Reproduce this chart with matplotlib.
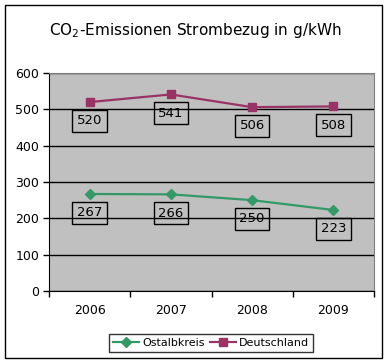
import matplotlib
matplotlib.use("Agg")
import matplotlib.pyplot as plt
from matplotlib.patches import Rectangle

years = ["2006", "2007", "2008", "2009"]
ostalbkreis = [267, 266, 250, 223]
deutschland = [520, 541, 506, 508]

GREEN = "#339966"
PURPLE = "#993366"
GRAY = "#C0C0C0"

plt.rcParams["font.family"] = "DejaVu Sans"
plt.rcParams["mathtext.default"] = "regular"

fig = plt.figure(figsize=(3.9, 3.64), dpi=100)
W, H = 390.0, 364.0

# outer chart frame
fig.patches.append(Rectangle((5 / W, 6 / H), 377 / W, 353 / H, transform=fig.transFigure,
                             fill=False, edgecolor="black", linewidth=1.0))

ax = fig.add_axes([49 / W, 73 / H, 325 / W, 218 / H])
ax.set_facecolor(GRAY)

x = range(len(years))
ax.plot(x, ostalbkreis, color=GREEN, marker="D", markersize=5, linewidth=1.6, label="Ostalbkreis")
ax.plot(x, deutschland, color=PURPLE, marker="s", markersize=5.5, linewidth=1.6, label="Deutschland")

for series in (ostalbkreis, deutschland):
    for i, v in enumerate(series):
        ax.annotate(str(v), (i, v), xytext=(0, -13.5), textcoords="offset points",
                    ha="center", va="center", fontsize=9.5,
                    bbox=dict(boxstyle="square,pad=0.35", facecolor="none",
                              edgecolor="black", linewidth=1))

ax.set_xlim(-0.5, 3.5)
ax.set_ylim(0, 600)
ax.set_yticks(range(0, 601, 100))
ax.yaxis.grid(True, color="black", linewidth=1)
ax.set_axisbelow(True)
ax.set_xticks(list(x))
ax.set_xticklabels(years)
ax.set_xticks([-0.5, 0.5, 1.5, 2.5, 3.5], minor=True)
ax.tick_params(axis="x", which="major", length=0, pad=9, labelsize=9)
ax.tick_params(axis="x", which="minor", length=4, direction="out", width=1)
ax.tick_params(axis="y", length=4, width=1, pad=3, labelsize=9)
for s in ("top", "right"):
    ax.spines[s].set_color("#808080")
for s in ("left", "bottom"):
    ax.spines[s].set_color("black")

fig.text(195 / W, 1 - 30 / H, "CO$_2$-Emissionen Strombezug in g/kWh",
         ha="center", va="center", fontsize=11, fontweight="medium")

leg = fig.legend(loc="center", bbox_to_anchor=(211 / W, 1 - 343 / H), ncol=2,
                 fontsize=8, frameon=True, fancybox=False, handlelength=2.3,
                 columnspacing=0.5, handletextpad=0.3, borderpad=0.35)
leg.get_frame().set_edgecolor("black")
leg.get_frame().set_linewidth(1)

fig.savefig("out.png", dpi=100)
